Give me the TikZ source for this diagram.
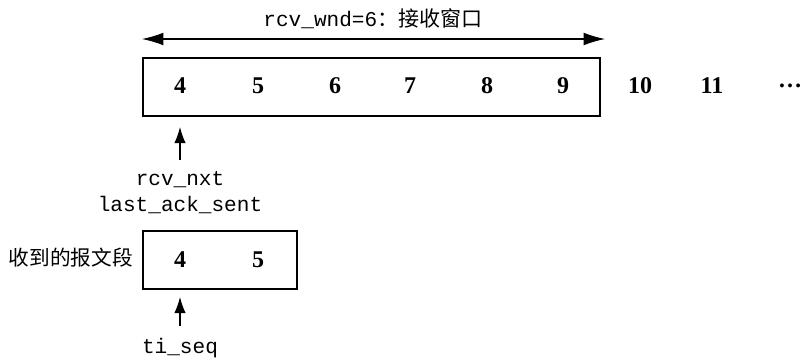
\documentclass[tikz,border=0pt]{standalone}
\usepackage{fontspec}
\setmainfont{Liberation Serif}
\setmonofont{Liberation Mono}
\newfontfamily\cjk{Noto Sans CJK SC}
\usetikzlibrary{arrows.meta}

\tikzset{
	num/.style={font=\bfseries\fontsize{18}{21}\selectfont, inner sep=0.75pt},
	var/.style={font=\ttfamily\fontsize{15.8}{18}\selectfont, inner sep=0.75pt},
	ptr/.style={line width=0.8pt, -{Latex[length=12pt,width=8.5pt]}},
}

\begin{document}
\begin{tikzpicture}[x=0.75pt,y=0.75pt,yscale=-1,xscale=1]
		\useasboundingbox (0,0) rectangle (811,364);
		
		%Shape: Rectangle [window]
		\draw [line width=0.9pt] (143,58) rectangle (600,116) ;
		%Shape: Rectangle [segment]
		\draw [line width=0.9pt] (143,231) rectangle (297,289) ;
		%Straight Lines [window size]
		\coordinate (wl) at (142,39) ;
		\coordinate (wr) at (605,39) ;
		\draw [line width=0.8pt, {Latex[length=16pt,width=9.5pt]}-{Latex[length=16pt,width=9.5pt]}] (wl) -- (wr) ;
		
		% Text Node
		\node [var] (wnd) at (373,19) {rcv\_wnd=6{\cjk ：接收窗口}};
		% Text Node
		\node [num] (n4) at (180,86) {4};
		% Text Node
		\node [num] (n5) at (258,86) {5};
		% Text Node
		\node [num] (n6) at (335,86) {6};
		% Text Node
		\node [num] (n7) at (410,86) {7};
		% Text Node
		\node [num] (n8) at (487,86) {8};
		% Text Node
		\node [num] (n9) at (563,86) {9};
		% Text Node
		\node [num] (n10) at (640,86) {10};
		% Text Node
		\node [num] (n11) at (712,86) {11};
		% Text Node
		\node [num] (dots) at (790,86) {\dots};
		% Text Node
		\node [var] (nxt) at (180,180) {rcv\_nxt};
		% Text Node
		\node [var] (ack) at (180,205) {last\_ack\_sent};
		% Text Node
		\node [num] (s4) at (180,260) {4};
		% Text Node
		\node [num] (s5) at (258,260) {5};
		% Text Node
		\node [anchor=east, inner sep=0.75pt, font=\cjk\fontsize{15.5}{18}\selectfont] (seg) at (134,258) {收到的报文段};
		% Text Node
		\node [var] (seq) at (180,348) {ti\_seq};
		
		%Straight Lines [pointers]
		\coordinate (t1) at (180,127) ;
		\coordinate (t2) at (180,297) ;
		\draw [ptr, shorten <=8pt] (nxt.north) -- (t1) ;
		\draw [ptr, shorten <=8pt] (seq.north) -- (t2) ;
	\end{tikzpicture}
\end{document}
